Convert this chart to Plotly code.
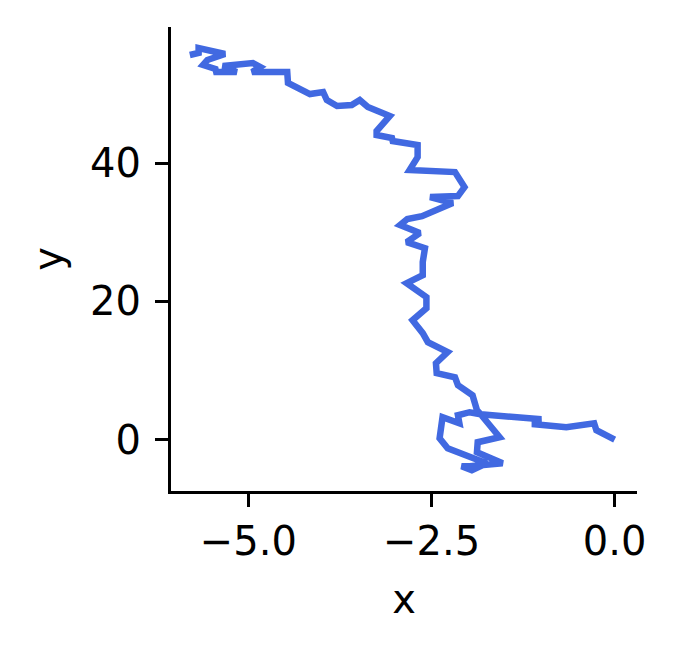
import plotly.graph_objects as go

# Random-walk path (x, y)
x_vals = [0.00, -0.25, -0.28, -0.66, -1.09, -1.09, -1.00, -1.39, -1.43, -1.83,
          -1.57, -1.87, -1.88, -1.71, -1.53, -1.98, -2.09, -1.95, -1.75, -2.28,
          -2.39, -2.35, -2.12, -2.14, -1.98, -1.83, -1.88, -1.94, -2.14, -2.18,
          -2.43, -2.44, -2.28, -2.55, -2.62, -2.76, -2.57, -2.57, -2.84, -2.62,
          -2.62, -2.59, -2.84, -2.66, -2.93, -2.83, -2.63, -2.21, -2.52, -2.14,
          -2.05, -2.18, -2.80, -2.69, -2.69, -3.03, -3.04, -3.25, -3.25, -3.07,
          -3.37, -3.48, -3.59, -3.79, -3.93, -3.98, -4.16, -4.46, -4.47, -4.95,
          -4.84, -4.94, -5.35, -5.16, -5.44, -5.45, -5.62, -5.56, -5.32, -5.68,
          -5.68, -5.80]
y_vals = [0.00, 1.35, 2.36, 1.78, 2.22, 2.80, 2.94, 3.38, 3.23, 3.67,
          0.33, -0.39, -1.84, -2.71, -3.43, -3.87, -3.87, -4.45, -3.43, -1.26,
          0.19, 3.23, 2.36, 3.52, 3.96, 3.67, 4.25, 6.42, 7.87, 9.03,
          9.61, 11.06, 12.66, 14.10, 15.41, 17.29, 19.03, 20.62, 22.65, 23.81,
          25.70, 27.72, 28.59, 29.90, 31.06, 31.93, 32.36, 34.25, 35.12, 35.26,
          36.57, 38.74, 39.03, 40.91, 42.65, 43.23, 43.67, 44.10, 44.68, 46.86,
          48.16, 49.18, 48.45, 48.30, 49.18, 50.34, 50.04, 51.64, 53.24, 53.24,
          53.96, 54.54, 54.10, 53.24, 53.24, 53.67, 54.25, 54.97, 55.84, 56.71,
          55.99, 55.70]

x_ticks = [-5.0, -2.5, 0.0]
y_ticks = [0, 20, 40]

fig = go.Figure()
fig.add_trace(go.Scatter(
    x=x_vals, y=y_vals, mode="lines",
    line=dict(color="#4169E1", width=6.5),
    showlegend=False,
))

font = dict(family="DejaVu Sans", size=40, color="black")

fig.update_layout(
    width=669, height=643,
    margin=dict(l=163, r=40, t=19, b=160, pad=0),
    plot_bgcolor="white", paper_bgcolor="white",
    font=font,
)
fig.update_xaxes(
    range=[-6.057, 0.305],
    tickvals=x_ticks, tickformat=".1f",
    showgrid=False, zeroline=False,
    showline=True, linecolor="black", linewidth=3,
    ticks="outside", ticklen=13, tickwidth=3, tickcolor="black",
    tickfont=font,
    title=dict(text="x", font=font, standoff=22),
)
fig.update_yaxes(
    range=[-7.45, 59.75],
    tickvals=y_ticks,
    showgrid=False, zeroline=False,
    showline=True, linecolor="black", linewidth=3,
    ticks="outside", ticklen=13, tickwidth=3, tickcolor="black",
    tickfont=font, ticklabelstandoff=6,
    title=dict(text="y", font=font, standoff=16),
)

fig.write_html("out.html")
